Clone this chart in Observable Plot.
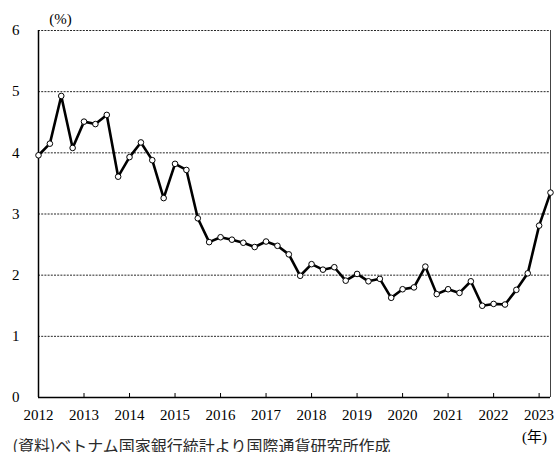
<!DOCTYPE html>
<html><head><meta charset="utf-8">
<script src="https://cdn.jsdelivr.net/npm/d3@7"></script>
<script src="https://cdn.jsdelivr.net/npm/@observablehq/plot@0.6"></script>
<style>
html,body{margin:0;padding:0;background:#fff;}
#chart{width:556px;height:452px;overflow:hidden;}
#chart svg text{font-family:"Liberation Serif","Times New Roman","DejaVu Serif","Noto Sans CJK JP",serif;}
#chart svg text.cap, #chart svg g.cap text{font-family:"Noto Sans CJK JP",sans-serif;}
</style>
</head><body><div id="chart"></div>
<script>
const quarters = [
  "2012Q1","2012Q2","2012Q3","2012Q4",
  "2013Q1","2013Q2","2013Q3","2013Q4",
  "2014Q1","2014Q2","2014Q3","2014Q4",
  "2015Q1","2015Q2","2015Q3","2015Q4",
  "2016Q1","2016Q2","2016Q3","2016Q4",
  "2017Q1","2017Q2","2017Q3","2017Q4",
  "2018Q1","2018Q2","2018Q3","2018Q4",
  "2019Q1","2019Q2","2019Q3","2019Q4",
  "2020Q1","2020Q2","2020Q3","2020Q4",
  "2021Q1","2021Q2","2021Q3","2021Q4",
  "2022Q1","2022Q2","2022Q3","2022Q4",
  "2023Q1","2023Q2"
];
const rates = [
  3.96, 4.15, 4.93, 4.08,
  4.51, 4.47, 4.62, 3.61,
  3.93, 4.17, 3.88, 3.26,
  3.82, 3.72, 2.93, 2.54,
  2.62, 2.58, 2.53, 2.46,
  2.55, 2.48, 2.34, 1.99,
  2.18, 2.09, 2.13, 1.91,
  2.02, 1.90, 1.94, 1.63,
  1.77, 1.80, 2.14, 1.69,
  1.77, 1.71, 1.90, 1.50,
  1.53, 1.52, 1.76, 2.03,
  2.81, 3.35
];
const years = [2012, 2013, 2014, 2015, 2016, 2017, 2018, 2019, 2020, 2021, 2022, 2023];
const yTicks = [0, 1, 2, 3, 4, 5, 6];
const yUnit = "(%)";
const xUnit = "(年)";
const source = "(資料)ベトナム国家銀行統計より国際通貨研究所作成";

const data = quarters.map((q, i) => ({i, q, v: rates[i]}));
const yearPos = years.map(y => quarters.indexOf(y + "Q1"));
const lastIdx = quarters.length - 1;

const chart = Plot.plot({
  width: 556,
  height: 452,
  marginLeft: 38,
  marginRight: 6,
  marginTop: 30,
  marginBottom: 55,
  x: {type: "linear", domain: [0, lastIdx], label: null},
  y: {domain: [0, 6], label: null},
  style: {fontSize: "15px", color: "#000", background: "#fff"},
  marks: [
    Plot.gridY(yTicks.slice(1), {stroke: "#000", strokeOpacity: 0.85, strokeDasharray: "2,1.2", strokeWidth: 1}),
    Plot.ruleX([lastIdx], {stroke: "#444", strokeWidth: 1}),
    Plot.ruleY([0], {stroke: "#000", strokeWidth: 1.5}),
    Plot.ruleX([0], {stroke: "#000", strokeWidth: 1.5}),
    Plot.axisX(yearPos.slice(1), {tickSize: 4, dy: -4, tickFormat: () => "", stroke: "#000", label: null}),
    Plot.axisX(yearPos, {tickSize: 0, tickPadding: 12, tickFormat: i => String(years[yearPos.indexOf(i)]), fontSize: 15, fill: "#000", label: null}),
    Plot.axisY(yTicks, {tickSize: 0, tickPadding: 19, tickFormat: d => String(d), fontSize: 15, fill: "#000", label: null}),
    Plot.line(data, {x: "i", y: "v", stroke: "#000", strokeWidth: 2.6, strokeLinejoin: "round"}),
    Plot.dot(data, {x: "i", y: "v", r: 2.8, fill: "#fff", stroke: "#000", strokeWidth: 1}),
    Plot.text([yUnit], {text: d => d, frameAnchor: "top-left", dx: 22, dy: -11, textAnchor: "middle", lineAnchor: "middle", fontSize: 15, fill: "#000"}),
    Plot.text([xUnit], {text: d => d, frameAnchor: "bottom-right", dx: -16, dy: 39.5, textAnchor: "middle", lineAnchor: "middle", fontSize: 15, fill: "#000"}),
    Plot.text([source], {text: d => d, frameAnchor: "bottom-left", dx: -26, dy: 49, textAnchor: "start", lineAnchor: "middle", fontSize: 16, fill: "#2a2a2a", className: "cap"})
  ]
});
document.getElementById("chart").appendChild(chart);
chart.querySelectorAll("text").forEach(t => { if (t.textContent === source) t.classList.add("cap"); });
</script>
</body></html>
